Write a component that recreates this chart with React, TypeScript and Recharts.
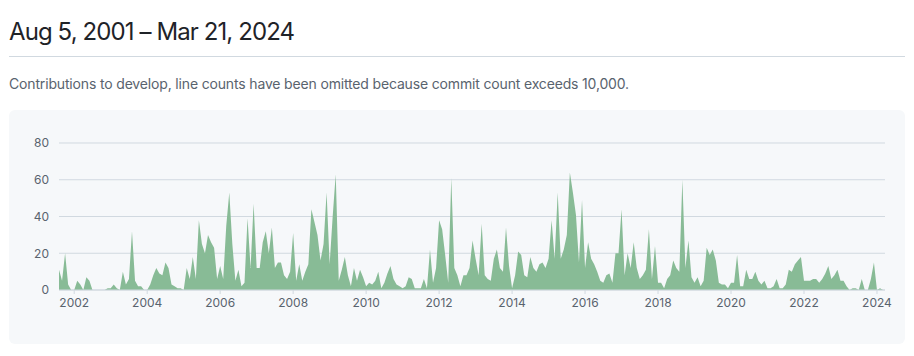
import { Area, AreaChart, CartesianGrid, XAxis, YAxis } from "recharts";

// monthly commit counts (Aug 2001 – Mar 2024)
const commits2001 = [11, 5, 20, 3, 0]; // Aug–Dec
const commits2002 = [0, 5, 3, 0, 7, 5, 0, 0, 0, 0, 0, 1];
const commits2003 = [1, 3, 1, 0, 10, 3, 6, 32, 5, 2, 2, 0];
const commits2004 = [0, 3, 8, 12, 9, 8, 15, 12, 3, 2, 1, 1];
const commits2005 = [0, 12, 6, 18, 6, 38, 25, 20, 30, 26, 23, 6];
const commits2006 = [13, 6, 35, 53, 25, 5, 11, 2, 4, 39, 12, 47];
const commits2007 = [12, 12, 26, 32, 20, 34, 12, 15, 15, 8, 6, 10];
const commits2008 = [31, 5, 14, 5, 10, 14, 44, 37, 30, 16, 25, 53];
const commits2009 = [14, 40, 63, 5, 11, 18, 8, 2, 12, 5, 11, 7];
const commits2010 = [2, 4, 3, 5, 10, 1, 4, 9, 13, 6, 3, 2];
const commits2011 = [1, 2, 7, 6, 1, 1, 1, 6, 1, 22, 4, 12];
const commits2012 = [38, 33, 19, 4, 61, 12, 8, 2, 8, 8, 12, 27];
const commits2013 = [17, 8, 36, 8, 6, 5, 17, 22, 12, 10, 34, 13];
const commits2014 = [1, 8, 21, 19, 8, 7, 18, 12, 10, 14, 15, 12];
const commits2015 = [17, 38, 17, 53, 17, 22, 30, 64, 53, 41, 15, 49];
const commits2016 = [12, 26, 17, 14, 10, 5, 4, 8, 9, 4, 20, 20];
const commits2017 = [44, 8, 20, 12, 26, 12, 6, 8, 11, 33, 6, 24];
const commits2018 = [4, 4, 1, 6, 8, 16, 12, 10, 60, 12, 27, 7];
const commits2019 = [4, 7, 2, 5, 23, 19, 22, 16, 4, 3, 3, 1];
const commits2020 = [4, 4, 19, 2, 2, 11, 6, 6, 10, 5, 3, 5];
const commits2021 = [1, 1, 2, 6, 1, 1, 3, 11, 10, 14, 16, 18];
const commits2022 = [5, 5, 5, 6, 6, 4, 6, 9, 13, 6, 8, 11];
const commits2023 = [5, 5, 2, 0, 1, 1, 0, 6, 0, 0, 6, 15];
const commits2024 = [0, 1, 0]; // Jan–Mar

const yTicks = [0, 20, 40, 60, 80];
const xTicks = [2002, 2004, 2006, 2008, 2010, 2012, 2014, 2016, 2018, 2020, 2022, 2024];

const years: Array<[number, number[], number]> = [
  [2001, commits2001, 7],
  [2002, commits2002, 0],
  [2003, commits2003, 0],
  [2004, commits2004, 0],
  [2005, commits2005, 0],
  [2006, commits2006, 0],
  [2007, commits2007, 0],
  [2008, commits2008, 0],
  [2009, commits2009, 0],
  [2010, commits2010, 0],
  [2011, commits2011, 0],
  [2012, commits2012, 0],
  [2013, commits2013, 0],
  [2014, commits2014, 0],
  [2015, commits2015, 0],
  [2016, commits2016, 0],
  [2017, commits2017, 0],
  [2018, commits2018, 0],
  [2019, commits2019, 0],
  [2020, commits2020, 0],
  [2021, commits2021, 0],
  [2022, commits2022, 0],
  [2023, commits2023, 0],
  [2024, commits2024, 0],
];

const data = years.flatMap(([year, values, firstMonth]) =>
  values.map((commits, i) => ({ t: year + (firstMonth + i) / 12, commits }))
);

const font = 'Inter, "Liberation Sans", sans-serif';
const muted = "#59636e";
const hairline = "#d1d9e0";

export default function App() {
  return (
    <div style={{ width: 896, marginLeft: 1, fontFamily: font, color: "#1f2328" }}>
      <div
        style={{
          paddingTop: 6,
          paddingBottom: 6,
          fontSize: 24,
          lineHeight: "36px",
          letterSpacing: -0.9,
          borderBottom: `1px solid ${hairline}`,
        }}
      >
        Aug 5, 2001 – Mar 21, 2024
      </div>
      <div
        style={{
          marginTop: 16,
          fontSize: 14,
          lineHeight: "21px",
          letterSpacing: -0.16,
          color: muted,
        }}
      >
        Contributions to develop, line counts have been omitted because commit count exceeds
        10,000.
      </div>
      <div
        style={{
          marginTop: 16,
          width: 896,
          height: 234,
          background: "#f6f8fa",
          borderRadius: 6,
        }}
      >
        <AreaChart
          width={896}
          height={234}
          data={data}
          margin={{ top: 33, right: 20, left: 0, bottom: 24 }}
        >
          <CartesianGrid vertical={false} stroke={hairline} />
          <XAxis
            dataKey="t"
            type="number"
            domain={[2001.583, 2024.22]}
            ticks={xTicks}
            tick={{ fill: muted, fontSize: 12, fontFamily: font }}
            axisLine={{ stroke: hairline }}
            tickLine={{ stroke: hairline }}
            tickSize={4}
            tickMargin={4}
            height={30}
          />
          <YAxis
            domain={[0, 80]}
            ticks={yTicks}
            tick={{ fill: muted, fontSize: 12, fontFamily: font }}
            axisLine={false}
            tickLine={false}
            tickMargin={4}
            width={50}
          />
          <Area
            type="linear"
            dataKey="commits"
            stroke="none"
            fill="#88bb96"
            fillOpacity={1}
            isAnimationActive={false}
          />
        </AreaChart>
      </div>
    </div>
  );
}
